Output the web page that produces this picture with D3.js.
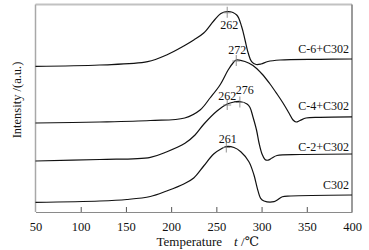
<!DOCTYPE html>
<html><head><meta charset="utf-8">
<script src="https://cdn.jsdelivr.net/npm/d3@7"></script>
<style>body{margin:0;background:#fff}svg{display:block}
svg text{font-family:"Liberation Serif","Times New Roman","DejaVu Serif",serif;}</style>
</head><body>
<script>
// ---- data (temperature in °C, intensity in arbitrary units) ----
const seriesNames = ["C-6+C302", "C-4+C302", "C-2+C302", "C302"];
const tempC6 = [50,121,174,195,214,225,236,247,255,263,272.5,278,281.7,285.3,289,294,299.4,307,320.4,364.6,400];
const intC6  = [145.7,147,150.3,157,166,172,179,191,198.5,200.5,197,185.3,172,158.7,150.3,147.5,148,150.5,152,152.7,153];
const tempC4 = [50,121,177,215,232,243,254,263,268.4,272,281.6,290.5,300.5,309.3,317.1,323.7,330.3,334.8,338.1,342.5,349.2,364.6,400];
const intC4  = [89,90,91.5,94,102,114,127,142,149,152,150.5,146.5,138,128,118,109,99,92,90,91.5,94,94.7,95.2];
const tempC2 = [50,121,177,195.4,215.3,226.4,236.3,250.7,262,269.5,276,283.9,287.2,290.5,294.4,297.2,300.5,303.8,307.1,311.5,317.1,342.5,400];
const intC2  = [51,52.5,54.7,60.3,68.7,77,88,101,108,110,110.5,108,104.5,95,82,69,58,52.5,51.8,54,56.5,57.5,58];
const tempC302 = [50,121,151,177,195,214,225,236,247,256,261,269.5,277,286,291.6,295.3,299,302.7,313.8,317.4,323,332.3,400];
const intC302  = [9.7,11,12.5,15.5,21,28,34,46,58,63.5,65.5,64.5,60.3,50.3,37,23.7,13.7,11,10.3,12,15.3,16,17];
const xTicks = [50,100,150,200,250,300,350,400];
// peak markers: series index, temperature, label
const peakSeries = [0, 1, 2, 2, 3];
const peakTemps  = [262, 272, 262, 276, 261];
const peakLabels = ["262", "272", "262", "276", "261"];

const temps = [tempC6, tempC4, tempC2, tempC302];
const ints  = [intC6, intC4, intC2, intC302];

// ---- layout ----
const W = 369, H = 250;
const m = {left: 35.5, right: 352, top: 4.5, bottom: 212};

const svg = d3.select("body").append("svg").attr("width", W).attr("height", H);
const x = d3.scaleLinear().domain([50, 400]).range([m.left, m.right]);
const y = d3.scaleLinear().domain([0, 207.5]).range([m.bottom, m.top]);

// frame
const frame = svg.append("g");
frame.append("line").attr("x1", m.left).attr("x2", m.right).attr("y1", m.top).attr("y2", m.top)
  .attr("stroke", "#c2c2c2").attr("stroke-width", 2);
frame.append("line").attr("x1", m.left).attr("x2", m.left).attr("y1", m.top).attr("y2", m.bottom)
  .attr("stroke", "#a8a8a8").attr("stroke-width", 1.5);
frame.append("line").attr("x1", m.right).attr("x2", m.right).attr("y1", m.top).attr("y2", m.bottom)
  .attr("stroke", "#7a7a7a").attr("stroke-width", 1.5);

// x axis (ticks inward)
const xAxis = d3.axisBottom(x).tickValues(xTicks).tickSizeInner(-5).tickSizeOuter(0).tickPadding(10);
const gx = svg.append("g").attr("transform", `translate(0,${m.bottom})`).call(xAxis);
gx.attr("font-family", null).attr("font-size", null);
gx.select(".domain").attr("stroke", "#8a8a8a").attr("stroke-width", 1.2);
gx.selectAll(".tick line").attr("stroke", "#555");
gx.selectAll(".tick").filter(d => d === 50 || d === 400).select("line").remove();
gx.selectAll("text").style("font-size", "12.5px").attr("fill", "#111");

// curves
const line = d3.line().x(d => x(d[0])).y(d => y(d[1])).curve(d3.curveCatmullRom.alpha(0.5));
const data = temps.map((t, i) => t.map((v, j) => [v, ints[i][j]]));
svg.append("g").selectAll("path").data(data).join("path")
  .attr("d", line).attr("fill", "none").attr("stroke", "#111").attr("stroke-width", 1.2);

// series labels
const labelDy = [-6, -6.5, -3, -6];
svg.append("g").selectAll("text").data(seriesNames).join("text")
  .attr("x", x(400) - 3)
  .attr("y", (d, i) => y(ints[i][ints[i].length - 1]) + labelDy[i])
  .attr("text-anchor", "end").style("font-size", "12px").attr("fill", "#111")
  .text(d => d);

// peak markers
function interp(i, t) {
  const ts = temps[i], vs = ints[i];
  for (let k = 0; k < ts.length - 1; k++) {
    if (t >= ts[k] && t <= ts[k + 1]) {
      const f = (t - ts[k]) / (ts[k + 1] - ts[k]);
      return vs[k] + f * (vs[k + 1] - vs[k]);
    }
  }
  return vs[vs.length - 1];
}
const peakDx = [2, 1, 0, 5, 1.5];
const peakDy = [17, -6, -4, -8, -3.5];
const pk = svg.append("g");
peakTemps.forEach((t, k) => {
  const px = x(t), py = y(interp(peakSeries[k], t));
  pk.append("line").attr("x1", px).attr("x2", px).attr("y1", py - 5).attr("y2", py + 6)
    .attr("stroke", "#777").attr("stroke-width", 0.8);
  pk.append("line").attr("x1", px - 4).attr("x2", px + 4).attr("y1", py + 1).attr("y2", py + 1)
    .attr("stroke", "#777").attr("stroke-width", 0.8);
  pk.append("text").attr("x", px + peakDx[k]).attr("y", py + peakDy[k])
    .attr("text-anchor", "middle").style("font-size", "12px").attr("fill", "#111")
    .text(peakLabels[k]);
});

// axis titles
svg.append("text").attr("x", 156.5).attr("y", 245.5).style("font-size", "13px")
  .attr("fill", "#111").text("Temperature");
const tt = svg.append("text").attr("x", 234).attr("y", 245.5).style("font-size", "13px").attr("fill", "#111");
tt.append("tspan").attr("font-style", "italic").text("t");
tt.append("tspan").text(" /℃");
svg.append("text").attr("transform", "translate(20.5,100) rotate(-90)").attr("text-anchor", "middle")
  .style("font-size", "12.5px").attr("fill", "#111").text("Intensity /(a.u.)");
</script>
</body></html>
